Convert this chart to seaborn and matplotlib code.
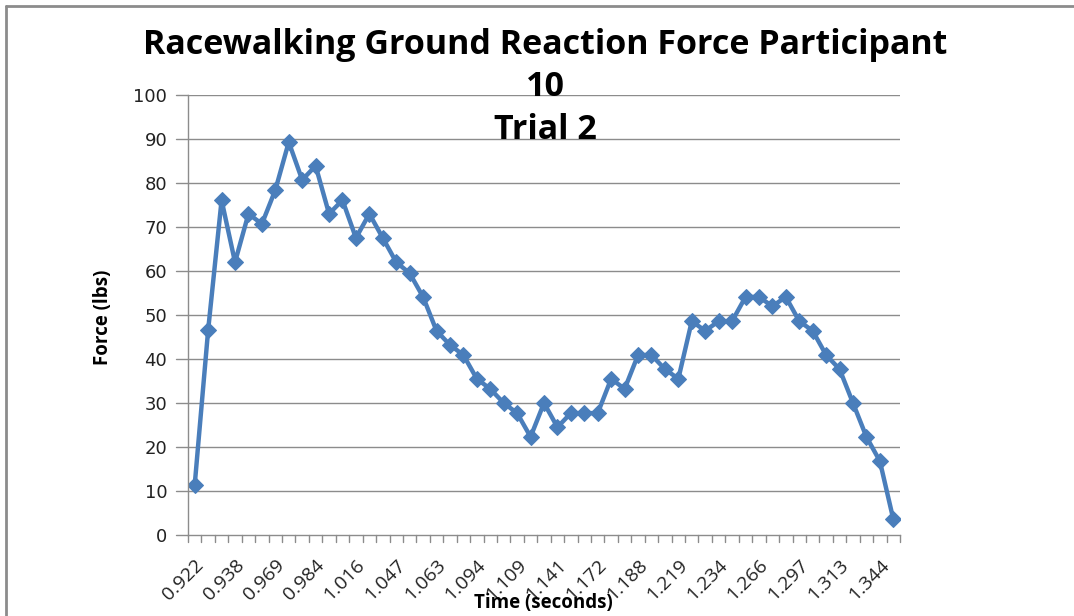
import matplotlib
matplotlib.use("Agg")
import matplotlib.pyplot as plt
import seaborn as sns
import pandas as pd
import numpy as np
from matplotlib.lines import Line2D

time_labels = ["0.922", "0.93", "0.93", "0.938", "0.945", "0.953", "0.969", "0.969", "0.977",
               "0.984", "0.992", "1", "1.016", "1.016", "1.031", "1.047", "1.047", "1.055",
               "1.063", "1.07", "1.078", "1.094", "1.094", "1.102", "1.109", "1.117", "1.125",
               "1.141", "1.141", "1.156", "1.172", "1.172", "1.18", "1.188", "1.195", "1.203",
               "1.219", "1.219", "1.227", "1.234", "1.242", "1.25", "1.266", "1.266", "1.281",
               "1.297", "1.297", "1.305", "1.313", "1.32", "1.328", "1.344", "1.352"]
force = [11.4, 46.6, 76.1, 62.0, 73.0, 70.7, 78.4, 89.3, 80.7, 83.9,
         73.0, 76.1, 67.5, 73.0, 67.5, 62.0, 59.5, 54.1, 46.4, 43.2,
         40.9, 35.5, 33.2, 30.0, 27.7, 22.3, 30.0, 24.5, 27.7, 27.7,
         27.7, 35.5, 33.2, 40.9, 40.9, 37.7, 35.5, 48.6, 46.4, 48.6,
         48.6, 54.1, 54.1, 52.0, 54.1, 48.6, 46.4, 40.9, 37.7, 30.0,
         22.3, 16.8, 3.6]
y_ticks = [0, 10, 20, 30, 40, 50, 60, 70, 80, 90, 100]

df = pd.DataFrame({"idx": np.arange(len(force)), "force": force})

sns.set_theme(style="white")
plt.rcParams["font.family"] = ["Open Sans", "DejaVu Sans"]
plt.rcParams["text.color"] = "black"

W, H = 1074, 616
fig = plt.figure(figsize=(W / 100, H / 100), dpi=100)
ax = fig.add_axes([188 / W, 1 - 535 / H, (900 - 188) / W, (535 - 95) / H])

color = "#4a7ebb"
sns.lineplot(data=df, x="idx", y="force", ax=ax, color=color, linewidth=3.2,
             marker="D", markersize=8, markeredgecolor=color, markerfacecolor=color)

n = len(force)
ax.set_xlim(-0.5, n - 0.5)
ax.set_ylim(0, 100)
ax.set_yticks(y_ticks)
ax.set_yticklabels([str(v) for v in y_ticks], fontsize=13, color="#222222",
                   family=["DejaVu Sans"])
for v in y_ticks[1:]:
    ax.axhline(v, color="#8c8c8c", linewidth=1.0, zorder=0)

ax.set_xticks(np.arange(0, n, 3))
ax.set_xticklabels([time_labels[i] for i in range(0, n, 3)], rotation=45,
                   ha="right", rotation_mode="anchor", fontsize=14, color="#222222")
ax.tick_params(axis="x", length=0, pad=15)
ax.tick_params(axis="y", length=0, pad=15)
# Excel-style tick marks between categories
for b in np.arange(-0.5, n, 1.0):
    ax.plot([b, b], [0, -1.6], color="#8c8c8c", linewidth=1.0, clip_on=False)
for v in y_ticks:
    ax.plot([-0.5, -0.5 - 0.9], [v, v], color="#8c8c8c", linewidth=1.0, clip_on=False)

for s in ["top", "right"]:
    ax.spines[s].set_visible(False)
for s in ["left", "bottom"]:
    ax.spines[s].set_color("#8c8c8c")
    ax.spines[s].set_linewidth(1.0)

ax.set_xlabel("")
ax.set_ylabel("")
fig.text(543 / W, 1 - 603 / H, "Time (seconds)", ha="center", va="center",
         fontsize=13.5, fontweight="bold")
fig.text(103 / W, 1 - 317 / H, "Force (lbs)", ha="center", va="center",
         fontsize=13.5, fontweight="bold", rotation=90)

tkw = dict(ha="center", va="center", fontsize=24.5, fontweight="bold")
fig.text(545 / W, 1 - 45 / H, "Racewalking Ground Reaction Force Participant", **tkw)
fig.text(545 / W, 1 - 87 / H, "10", **tkw)
fig.text(545 / W, 1 - 130 / H, "Trial 2", **tkw)

fig.add_artist(Line2D([6 / W, 1.0], [1 - 6 / H, 1 - 6 / H], transform=fig.transFigure,
                      color="#8c8c8c", linewidth=2))
fig.add_artist(Line2D([6 / W, 6 / W], [0.0, 1 - 6 / H], transform=fig.transFigure,
                      color="#8c8c8c", linewidth=2))

fig.savefig("out.png", dpi=100)
